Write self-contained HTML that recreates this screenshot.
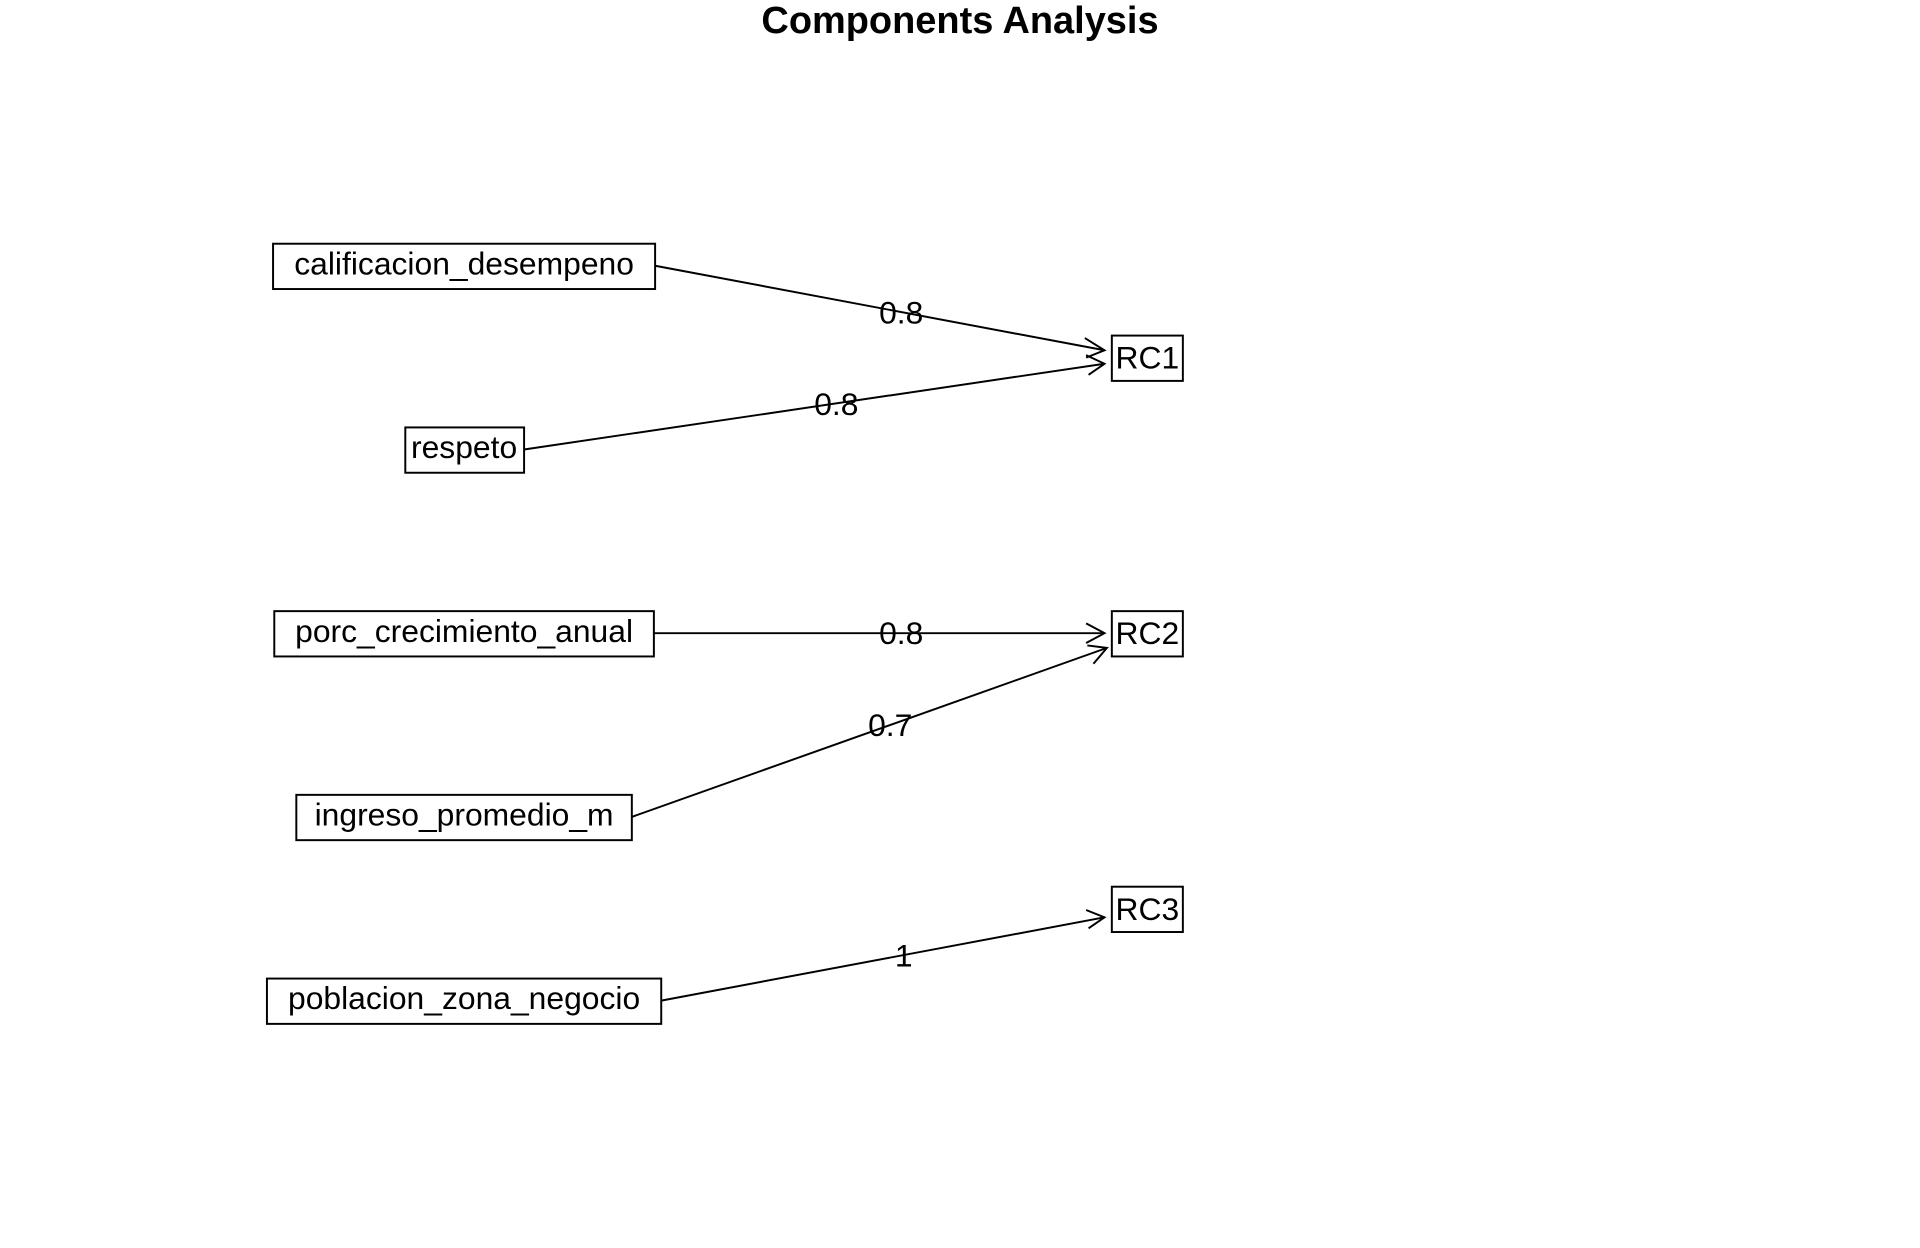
<!DOCTYPE html>
<html><head><meta charset="utf-8"><style>
html,body{margin:0;padding:0;background:#fff;}
svg{display:block;}
text{font-family:"Liberation Sans",sans-serif;fill:#000;}
</style></head><body>
<svg width="1920" height="1248" viewBox="0 0 1568 1019" preserveAspectRatio="none">
<text x="784" y="27" text-anchor="middle" font-size="31" font-weight="bold">Components Analysis</text>
<g fill="none" stroke="#000" stroke-width="1.6">
<rect x="223" y="199" width="312" height="37"/>
<rect x="331" y="349" width="97" height="37"/>
<rect x="224" y="499" width="310" height="37"/>
<rect x="242" y="649" width="274" height="37"/>
<rect x="218" y="799" width="322" height="37"/>
<rect x="908" y="274" width="58" height="37"/>
<rect x="908" y="499" width="58" height="37"/>
<rect x="908" y="724" width="58" height="37"/>
<line x1="535" y1="217" x2="902" y2="286"/>
<polyline points="886,276 902,286 887,292"/>
<line x1="428" y1="367" x2="902" y2="297"/>
<polyline points="887,290 902,297 889,306"/>
<line x1="534" y1="517" x2="902" y2="517"/>
<polyline points="887,509 902,517 887,525"/>
<line x1="516" y1="667" x2="904" y2="529"/>
<polyline points="888,527 904,529 893,542"/>
<line x1="540" y1="817" x2="902" y2="749"/>
<polyline points="887,743 902,749 889,758"/>
</g>
<g font-size="26" text-anchor="middle">
<text x="379" y="224">calificacion_desempeno</text>
<text x="379" y="374">respeto</text>
<text x="379" y="524">porc_crecimiento_anual</text>
<text x="379" y="674">ingreso_promedio_m</text>
<text x="379" y="824">poblacion_zona_negocio</text>
<text x="937" y="301">RC1</text>
<text x="937" y="526">RC2</text>
<text x="937" y="751">RC3</text>
<text x="736" y="264">0.8</text>
<text x="683" y="339">0.8</text>
<text x="736" y="526">0.8</text>
<text x="727" y="601">0.7</text>
<text x="738" y="789">1</text>
</g>
</svg>
</body></html>
